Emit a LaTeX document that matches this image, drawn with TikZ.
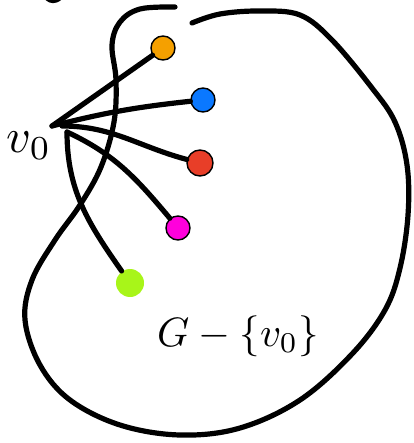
\documentclass[tikz,border=0pt]{standalone}
\usepackage{amsmath, amssymb}
\usepackage{xcolor}
\usepackage{tikz}
\definecolor{odot}{RGB}{245, 160, 0}
\definecolor{bdot}{RGB}{10, 120, 255}
\definecolor{rdot}{RGB}{232, 62, 40}
\definecolor{mdot}{RGB}{255, 0, 220}
\definecolor{gdot}{RGB}{168, 245, 25}
\tikzset{
	pen/.style={line width=5.2pt, line cap=round, line join=round},
	vdot/.style={circle, inner sep=0pt, minimum size=24pt, draw=black, line width=1.4pt},
}

\begin{document}
\begin{tikzpicture}[x=1pt, y=-1pt]
		\useasboundingbox (0,0) rectangle (413,443);

		% the graph G
		\draw[pen] plot[smooth, tension=0.6] coordinates {(192,23) (220,14) (260,11) (300,15) (332,40) (372,88) (395,122) (407,165) (408,215) (400,268) (385,310) (352,354) (300,400) (240,428) (180,435) (120,425) (70,400) (40,365) (25,320) (32,280) (55,240) (80,205) (101,167) (114,122) (116,80) (112,45) (120,22) (140,9) (175,7)};
		\draw[pen] (44,-5) to[out=-40, in=180] (53,0.5) to[out=0, in=-140] (63,-5);

		\node[vdot, fill=odot] (o) at (163,48) {};
		\node[vdot, fill=bdot] (b) at (203,100) {};
		\node[vdot, fill=rdot, minimum size=26pt] (r) at (200,163) {};
		\node[vdot, fill=mdot] (m) at (178,228) {};
		\node[vdot, fill=gdot, draw=none, minimum size=28pt] (g) at (130,283) {};

		\coordinate (tip) at (52,126);
		\coordinate (mid) at (62,126);
		\coordinate (low) at (67,132);

		\node[scale=4.8] (v) at (29,146) {$v_0$};
		\node[scale=4.1] (lbl) at (238,336) {$G-\{v_0\}$};

		\draw[pen] (tip) -- (o);
		\draw[pen] (tip) to[bend left=4] (b);
		\draw[pen] (mid) to[out=0, in=165] (r);
		\draw[pen] (low) to[out=-25, in=130] (m);
		\draw[pen] (low) to[out=-90, in=125] (g);
	\end{tikzpicture}
\end{document}
